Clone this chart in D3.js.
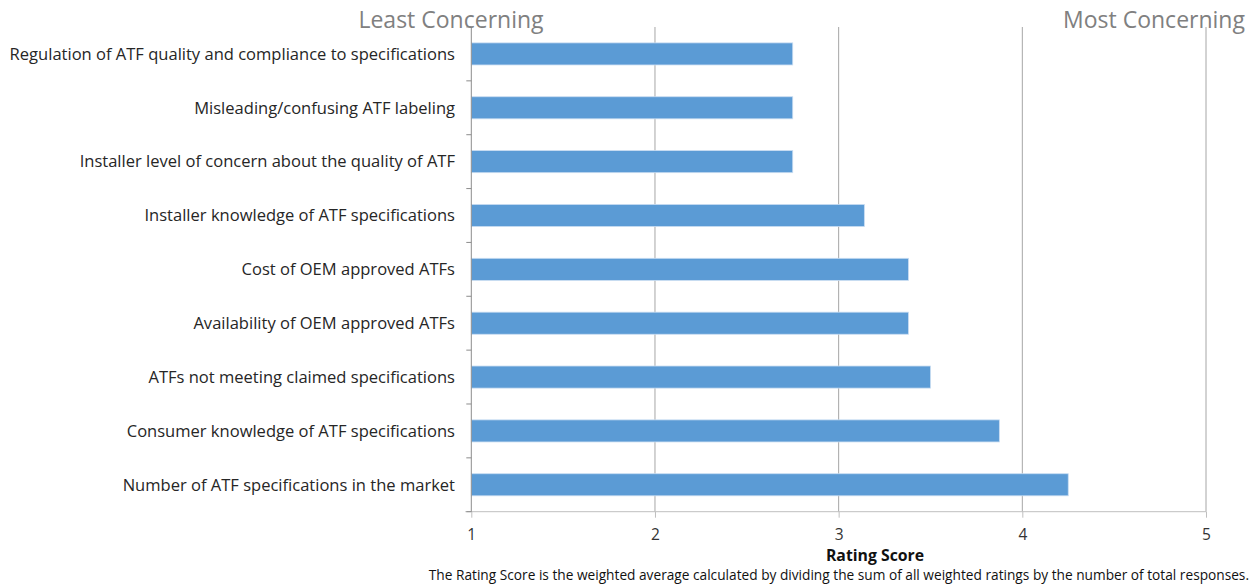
<!DOCTYPE html>
<html>
<head>
<meta charset="utf-8">
<script src="https://cdn.jsdelivr.net/npm/d3@7"></script>
<style>
  html, body { margin: 0; padding: 0; background: #fff; }
  svg { display: block; font-family: "Open Sans", Lato, sans-serif; }
</style>
</head>
<body>
<svg id="chart" width="1257" height="587"></svg>
<script>
const categories = [
  "Regulation of ATF quality and compliance to specifications",
  "Misleading/confusing ATF labeling",
  "Installer level of concern about the quality of ATF",
  "Installer knowledge of ATF specifications",
  "Cost of OEM approved ATFs",
  "Availability of OEM approved ATFs",
  "ATFs not meeting claimed specifications",
  "Consumer knowledge of ATF specifications",
  "Number of ATF specifications in the market"
];
const ratingScores = [2.75, 2.75, 2.75, 3.14, 3.38, 3.38, 3.5, 3.875, 4.25];
const xTicks = [1, 2, 3, 4, 5];
const xDomain = [1, 5];
const axisTitle = "Rating Score";
const leftNote = "Least Concerning";
const rightNote = "Most Concerning";
const footnote = "The Rating Score is the weighted average calculated by dividing the sum of all weighted ratings by the number of total responses.";

const svg = d3.select("#chart");
const plot = { left: 471.3, right: 1206, top: 27, bottom: 511.7 };

const x = d3.scaleLinear().domain(xDomain).range([plot.left, plot.right]);
const y = d3.scaleBand().domain(categories).range([plot.top, plot.bottom])
  .paddingInner(0.59).paddingOuter(0.295);

// vertical gridlines
svg.append("g").selectAll("line").data(xTicks.slice(1)).join("line")
  .attr("x1", d => x(d)).attr("x2", d => x(d))
  .attr("y1", plot.top).attr("y2", plot.bottom)
  .attr("stroke", "#a6a6a6").attr("stroke-width", 1);

// bars
svg.append("g").selectAll("rect").data(categories).join("rect")
  .attr("x", x(xDomain[0]))
  .attr("y", d => y(d))
  .attr("width", (d, i) => x(ratingScores[i]) - x(xDomain[0]))
  .attr("height", y.bandwidth())
  .attr("fill", "#5b9bd5")
  .attr("stroke", "#c9ddf2").attr("stroke-width", 0.8);

// x axis
const xAxis = d3.axisBottom(x).tickValues(xTicks).tickFormat(d3.format("d")).tickSize(6).tickPadding(11);
const gx = svg.append("g").attr("transform", `translate(0,${plot.bottom})`).call(xAxis);
gx.select(".domain").attr("stroke", "#bfbfbf").attr("d", `M${plot.left - 6},0H${plot.right}`);
gx.selectAll(".tick line").attr("stroke", "#bfbfbf");
gx.selectAll(".tick text").attr("fill", "#333").style("font-size", "15.5px").style("font-family", "'Open Sans', sans-serif");

// y axis line and ticks between categories
const step = y.step();
const boundaries = d3.range(categories.length + 1).map(i => plot.top + i * step);
svg.append("line").attr("x1", plot.left).attr("x2", plot.left)
  .attr("y1", plot.top).attr("y2", plot.bottom).attr("stroke", "#8c8c8c");
svg.append("g").selectAll("line").data(boundaries).join("line")
  .attr("x1", plot.left - 5).attr("x2", plot.left)
  .attr("y1", d => d).attr("y2", d => d).attr("stroke", "#8c8c8c");

// category labels
svg.append("g").selectAll("text").data(categories).join("text")
  .attr("x", 455)
  .attr("y", d => y(d) + y.bandwidth() / 2)
  .attr("dy", "0.35em")
  .attr("text-anchor", "end")
  .attr("fill", "#262626")
  .style("font-size", "16.55px")
  .text(d => d);

// axis title
svg.append("text").attr("x", 875).attr("y", 561).attr("text-anchor", "middle")
  .attr("fill", "#111").style("font-size", "15.8px").style("font-weight", "bold").text(axisTitle);

// footnote
svg.append("text").attr("x", 1249).attr("y", 580).attr("text-anchor", "end")
  .attr("fill", "#111").style("font-size", "13.7px").text(footnote);

// notes
svg.append("text").attr("x", 451).attr("y", 28).attr("text-anchor", "middle")
  .attr("fill", "#808080").style("font-size", "23px").text(leftNote);
svg.append("text").attr("x", 1154).attr("y", 28).attr("text-anchor", "middle")
  .attr("fill", "#808080").style("font-size", "23px").text(rightNote);
</script>
</body>
</html>
